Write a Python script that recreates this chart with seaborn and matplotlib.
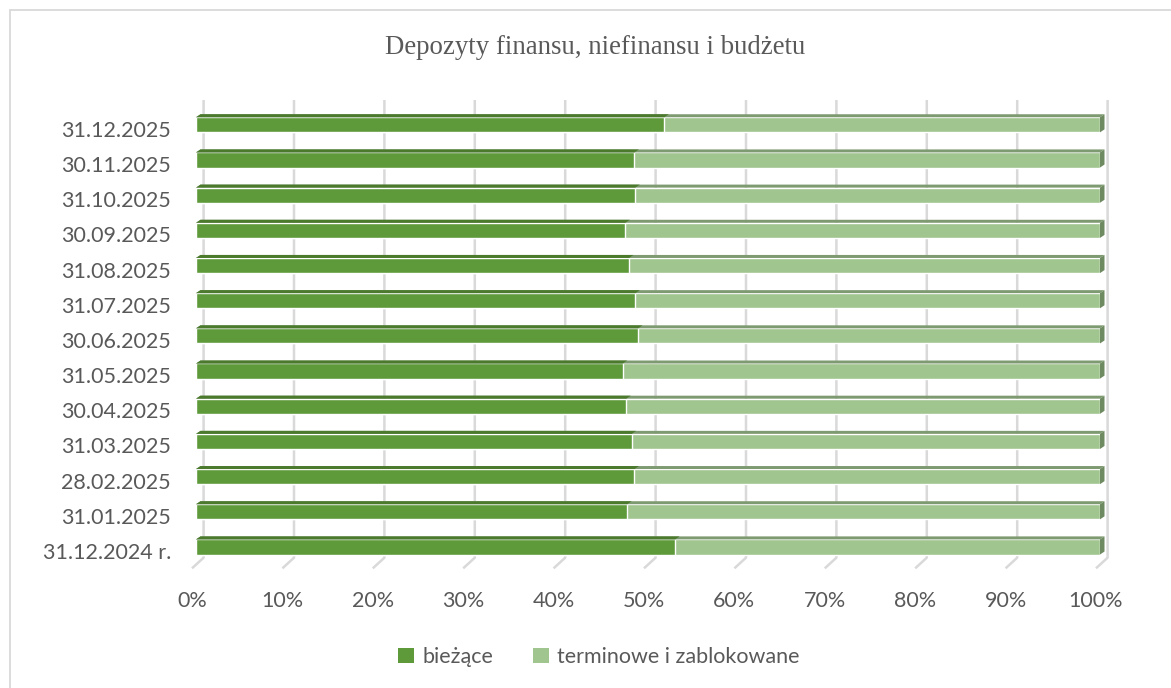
import matplotlib
matplotlib.use("Agg")
import matplotlib.pyplot as plt
import numpy as np
import pandas as pd
import seaborn as sns
from matplotlib.patches import Patch, Polygon, Rectangle
from matplotlib.transforms import ScaledTranslation

# ================ Data ================
dates = [
    "31.12.2025", "30.11.2025", "31.10.2025", "30.09.2025", "31.08.2025",
    "31.07.2025", "30.06.2025", "31.05.2025", "30.04.2025", "31.03.2025",
    "28.02.2025", "31.01.2025", "31.12.2024 r.",
]
biezace = [51.8, 48.5, 48.6, 47.5, 47.9, 48.6, 48.9, 47.2, 47.6, 48.2, 48.5, 47.7, 53.0]
terminowe = [100 - v for v in biezace]
x_ticks = [0, 10, 20, 30, 40, 50, 60, 70, 80, 90, 100]

TITLE = "Depozyty finansu, niefinansu i budżetu"
SERIES = ["bieżące", "terminowe i zablokowane"]

DARK = "#5E9A3A"
DARK_TOP = "#4B7A2D"
LIGHT = "#A0C58E"
LIGHT_TOP = "#7E9A70"
LIGHT_SIDE = "#6E8A60"
GRID = "#D9D9D9"
TEXT = "#595959"

df = pd.DataFrame({"date": dates, "biezace": biezace, "terminowe": terminowe})
df["total"] = df["biezace"] + df["terminowe"]

# ================ Figure ================
W, H, DPI = 1171, 688, 100
sns.set_style("white")
plt.rcParams["font.family"] = ["Lato", "DejaVu Sans"]

fig = plt.figure(figsize=(W / DPI, H / DPI), dpi=DPI)
# chart frame (only top and left edges fall inside the picture)
fig.patches.append(Rectangle((10 / W, -0.1), 1.2, 1.1 - 10 / H, transform=fig.transFigure,
                             fill=False, edgecolor=GRID, linewidth=1.3))

# axes laid out in pixels: front plane x 0..100 -> 196..1100 px
x0_px, x1_px = 196, 1100
pitch = 35.18
first_c = 124.8
ylo, yhi = -0.75, 12.75
top_px = first_c + ylo * pitch
bot_px = first_c + yhi * pitch
ax = fig.add_axes([x0_px / W, 1 - bot_px / H, (x1_px - x0_px) / W, (bot_px - top_px) / H])

bar_w = 0.43
sns.barplot(data=df, y="date", x="total", color=LIGHT, orient="h", width=bar_w,
            saturation=1, ax=ax, zorder=3)
sns.barplot(data=df, y="date", x="biezace", color=DARK, orient="h", width=bar_w,
            saturation=1, ax=ax, zorder=3)

ax.set_xlim(0, 100)
ax.set_ylim(yhi, ylo)
sns.despine(ax=ax, left=True, bottom=True)

# pixel -> data conversion
px_x = 100 / (x1_px - x0_px)
px_y = 1 / pitch

# ================ Back wall / floor grid ================
g_back = 7.6 * px_x
g_front = -4.0 * px_x
y_top = -0.5 - 0.205
y_back = 12 + 0.305
y_front = 12 + 0.607
for v in x_ticks:
    ax.plot([v + g_back, v + g_back, v + g_front], [y_top, y_back, y_front],
            color=GRID, linewidth=1.8, zorder=1, solid_capstyle="butt", clip_on=False)

# ================ 3D faces on the bars ================
ddx = 4.5 * px_x
ddy = 3.0 * px_y
n = len(dates)
for i, p in enumerate(list(ax.patches)):
    x, y, w, h = p.get_x(), p.get_y(), p.get_width(), p.get_height()
    light = i < n
    ytop = min(y, y + h)
    ybot = max(y, y + h)
    top = Polygon([(x, ytop), (x + w, ytop), (x + w + ddx, ytop - ddy), (x + ddx, ytop - ddy)],
                  closed=True, facecolor=LIGHT_TOP if light else DARK_TOP, edgecolor="none",
                  zorder=3.5 if light else 4, clip_on=False)
    ax.add_patch(top)
    if light:
        side = Polygon([(x + w, ytop), (x + w + ddx, ytop - ddy), (x + w + ddx, ybot - ddy), (x + w, ybot)],
                       closed=True, facecolor=LIGHT_SIDE, edgecolor="none", zorder=3.5, clip_on=False)
        ax.add_patch(side)

# ================ Ticks ================
ax.set_xticks(x_ticks)
ax.set_xticklabels([f"{v}%" for v in x_ticks])
ax.tick_params(axis="x", length=0, pad=13, labelsize=15.5, labelcolor=TEXT)
ax.tick_params(axis="y", length=0, pad=18, labelsize=15.5, labelcolor=TEXT)
for lab in ax.get_xticklabels():
    lab.set_transform(lab.get_transform() + ScaledTranslation(-4 / DPI, 0, fig.dpi_scale_trans))
for lab in ax.get_yticklabels():
    lab.set_transform(lab.get_transform() + ScaledTranslation(0, -4 / DPI, fig.dpi_scale_trans))
ax.set_xlabel("")
ax.set_ylabel("")
ax.grid(False)

fig.text(595 / W, 1 - 48 / H, TITLE, ha="center", va="center", fontsize=19.3,
         family="Liberation Serif", color=TEXT)

handles = [Patch(facecolor=DARK, edgecolor="none"), Patch(facecolor=LIGHT, edgecolor="none")]
fig.legend(handles, SERIES, loc="center", bbox_to_anchor=(599 / W, 1 - 657 / H), ncol=2,
           frameon=False, fontsize=15.5, labelcolor=TEXT, handlelength=0.75, handleheight=0.75,
           handletextpad=0.4, columnspacing=1.8)

fig.savefig("out.png", dpi=DPI)
